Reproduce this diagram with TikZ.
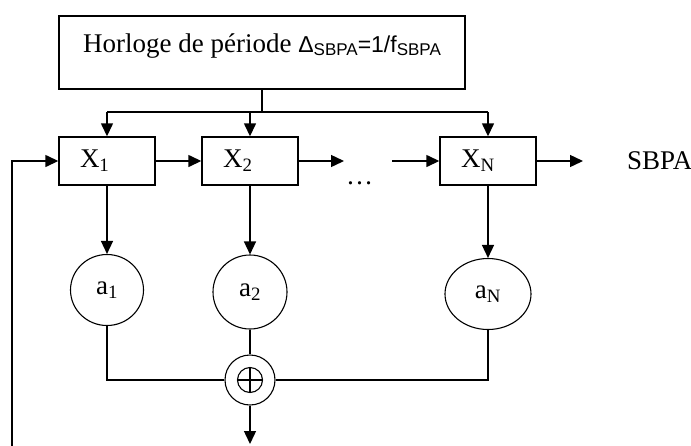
\documentclass[tikz,border=0pt]{standalone}
\usepackage{fontspec}
\setmainfont{Liberation Serif}
\newfontfamily\arialf{Liberation Sans}
\usetikzlibrary{arrows.meta,shapes.geometric}
\tikzset{
  box/.style={draw, line width=1.4pt, inner sep=0pt},
  reg/.style={box, minimum width=96pt, minimum height=48pt, text width=54pt, align=left, inner xsep=21pt, inner ysep=0pt},
  coef/.style={draw, ellipse, line width=1.1pt, inner sep=0pt},
  wire/.style={line width=1.4pt},
  arr/.style={line width=1.4pt, -{Triangle[length=13pt,width=12pt]}},
}
\newcommand{\sbpasub}{\raisebox{-2.5pt}{\fontsize{17}{17}\selectfont SBPA}}
\begin{document}
\begin{tikzpicture}[x=1pt, y=-1pt, font=\fontsize{27}{30}\selectfont]
\useasboundingbox (0,0) rectangle (691,445);
% clock
\node[box, minimum width=406pt, minimum height=73pt, text height=17pt, text depth=17pt] (clk) at (262,52.5)
  {Horloge de période {\arialf\fontsize{23}{24}\selectfont Δ\sbpasub=1/f\sbpasub}};
\coordinate (bus) at (262,112);
% registers
\node[reg] (x1) at (107,161) {X\textsubscript{1}};
\node[reg] (x2) at (250,161) {X\textsubscript{2}};
\node[reg] (xn) at (488,161) {X\textsubscript{N}};
\node[anchor=west, inner sep=0pt] (sbpa) at (627,161) {SBPA};
\node[anchor=base west, inner sep=0pt] (dots) at (346,184) {…};
\coordinate (x2out) at (344,161);
\coordinate (xnin) at (392,161);
\coordinate (out) at (583,161);
% coefficients
\node[coef, minimum width=73pt, minimum height=71pt] (a1) at (107,290) {a\textsubscript{1}};
\node[coef, minimum width=74pt, minimum height=74pt] (a2) at (250,292) {a\textsubscript{2}};
\node[coef, minimum width=86pt, minimum height=71pt] (an) at (488,294) {a\textsubscript{N}};
% adder
\node[draw, circle, line width=1.1pt, minimum size=50pt, inner sep=0pt,
  path picture={
    \draw[line width=1.1pt] (path picture bounding box.center) circle[radius=12.5pt];
    \draw[line width=1.1pt] (path picture bounding box.center) +(-12.5pt,0pt) -- +(12.5pt,0pt);
    \draw[line width=1.1pt] (path picture bounding box.center) +(0pt,-12.5pt) -- +(0pt,12.5pt);
  }] (sum) at (250,380) {};
\coordinate (res) at (250,444);
\coordinate (fb) at (12,446);
% clock wiring
\draw[wire] (clk.south) -- (bus);
\draw[wire] (x1.north |- bus) -- (xn.north |- bus);
\draw[arr] (x1.north |- bus) -- (x1.north);
\draw[arr] (x2.north |- bus) -- (x2.north);
\draw[arr] (xn.north |- bus) -- (xn.north);
% shift chain
\draw[arr] (fb) |- (x1.west);
\draw[arr] (x1.east) -- (x2.west);
\draw[arr] (x2.east) -- (x2out);
\draw[arr] (xnin) -- (xn.west);
\draw[arr] (xn.east) -- (out);
% taps
\draw[arr] (x1.south) -- (a1.north);
\draw[arr] (x2.south) -- (a2.north);
\draw[arr] (xn.south) -- (an.north);
\draw[wire] (a1.south) |- (sum.west);
\draw[wire] (an.south) |- (sum.east);
\draw[wire] (a2.south) -- (sum.north);
\draw[arr] (sum.south) -- (res);
\end{tikzpicture}
\end{document}
